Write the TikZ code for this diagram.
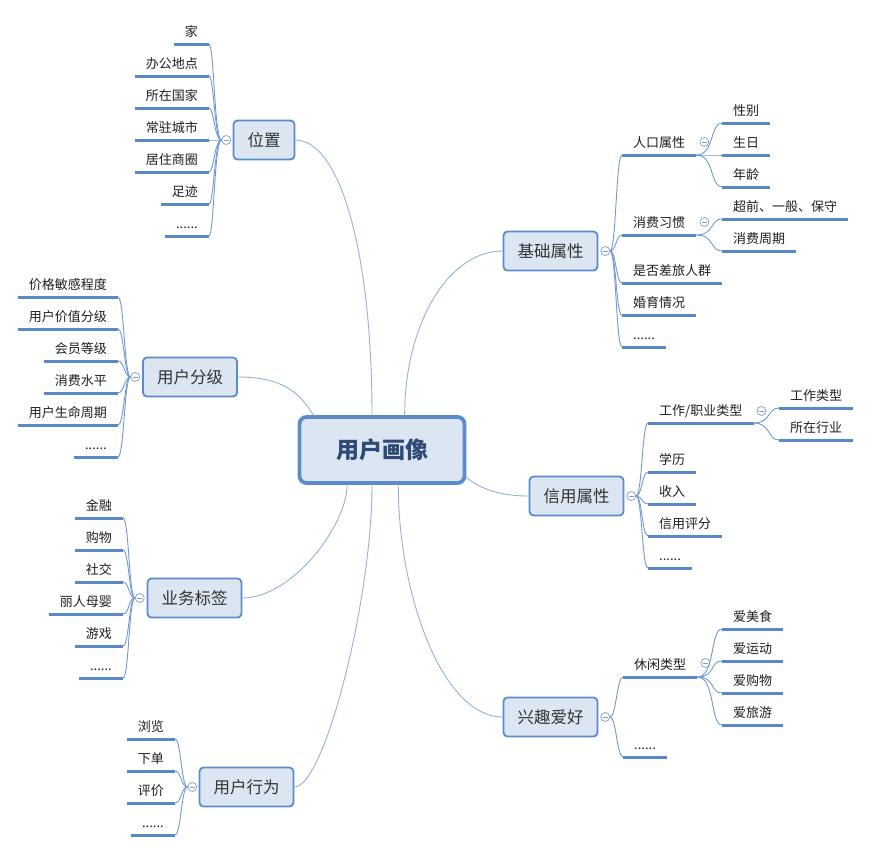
\documentclass[tikz,border=0pt]{standalone}
\usepackage{fontspec}
\setmainfont{Noto Sans CJK SC}
\usetikzlibrary{positioning}
\definecolor{boxfill}{HTML}{DCE6F2}
\definecolor{ringblue}{HTML}{5B8BCB}
\definecolor{lineblue}{HTML}{5A88C7}
\definecolor{twigblue}{HTML}{7199D0}
\definecolor{linkblue}{HTML}{95B2DA}
\definecolor{foldgray}{HTML}{7F9DC8}
\definecolor{rootink}{HTML}{2E4A75}
\newcommand\leafdots{......}
\tikzset{
	root/.style = {
			rounded corners=7pt, draw=ringblue, line width=3.8pt, fill=boxfill,
			minimum width=165pt, minimum height=66pt, text=rootink,
			font=\fontsize{23pt}{26pt}\selectfont\bfseries,
		},
	topic/.style = {
			rounded corners=4pt, draw=ringblue, line width=1.8pt, fill=boxfill,
			inner xsep=14pt, minimum height=39pt, text=black!80,
			font=\fontsize{16.5pt}{18pt}\selectfont,
		},
	leaf/.style = {
			inner xsep=11pt, inner ysep=0pt, text height=12pt, text depth=7pt,
			text=black!88, font=\fontsize{13pt}{15pt}\selectfont,
		},
	leafline/.style = {draw=lineblue, line width=3pt},
	twig/.style = {draw=twigblue, line width=0.9pt},
	link/.style = {draw=linkblue, line width=0.9pt},
	fold/.style = {
			circle, draw=foldgray, fill=white, line width=0.7pt,
			minimum size=9pt, inner sep=0pt,
			path picture={\draw[foldgray, line width=0.7pt]
					([xshift=-2.6pt]path picture bounding box.center) -- ([xshift=2.6pt]path picture bounding box.center);},
		}
}
\begin{document}
\begin{tikzpicture}[x=1pt, y=-1pt]
	% Page frame
	\path[use as bounding box, fill=white] (0,0) rectangle (872,852);

	% Central topic
	\node[root] (uc) at (382,450) {用户画像};

	% Location (left)
	\node[topic] (wz) at (264,140) {位置};
	\node[fold, left=1.5pt of wz] (wz-f) {};
	\foreach \n/\t/\y in {1/家/44, 2/办公地点/76, 3/所在国家/108, 4/常驻城市/140, 5/居住商圈/172, 6/足迹/204, 7/\leafdots/236}
		{   \node[leaf, anchor=south east] (wz-\n) at (209,\y) {\t};
			\draw[leafline] (wz-\n.south west) -- (wz-\n.south east);
			\draw[twig] (wz-f.west) .. controls +(-7,0) and +(5,0) .. (wz-\n.south east);
		}

	% User tiers (left)
	\node[topic] (fj) at (190,377) {用户分级};
	\node[fold, left=2pt of fj] (fj-f) {};
	\foreach \n/\t/\y in {1/价格敏感程度/297, 2/用户价值分级/329, 3/会员等级/361, 4/消费水平/393, 5/用户生命周期/425, 6/\leafdots/457}
		{   \node[leaf, anchor=south east] (fj-\n) at (118,\y) {\t};
			\draw[leafline] (fj-\n.south west) -- (fj-\n.south east);
			\draw[twig] (fj-f.west) .. controls +(-6,0) and +(6,0) .. (fj-\n.south east);
		}

	% Business tags (left)
	\node[topic] (yw) at (194.5,598) {业务标签};
	\node[fold, left=2pt of yw] (yw-f) {};
	\foreach \n/\t/\y in {1/金融/518, 2/购物/550, 3/社交/582, 4/丽人母婴/614, 5/游戏/646, 6/\leafdots/678}
		{   \node[leaf, anchor=south east] (yw-\n) at (123,\y) {\t};
			\draw[leafline] (yw-\n.south west) -- (yw-\n.south east);
			\draw[twig] (yw-f.west) .. controls +(-6,0) and +(6,0) .. (yw-\n.south east);
		}

	% User behaviour (left)
	\node[topic] (xw) at (246.5,787) {用户行为};
	\node[fold, left=1.5pt of xw] (xw-f) {};
	\foreach \n/\t/\y in {1/浏览/739, 2/下单/771, 3/评价/803, 4/\leafdots/835}
		{   \node[leaf, anchor=south east] (xw-\n) at (175,\y) {\t};
			\draw[leafline] (xw-\n.south west) -- (xw-\n.south east);
			\draw[twig] (xw-f.west) .. controls +(-6,0) and +(6,0) .. (xw-\n.south east);
		}

	% Basic attributes (right)
	\node[topic] (jc) at (550.5,251) {基础属性};
	\node[fold, right=2pt of jc] (jc-f) {};
	\foreach \n/\t/\y in {1/人口属性/155, 2/消费习惯/235, 3/是否差旅人群/283, 4/婚育情况/315, 5/\leafdots/347}
		{   \node[leaf, anchor=south west] (jc-\n) at (622,\y) {\t};
			\draw[leafline] (jc-\n.south west) -- (jc-\n.south east);
			\draw[twig] (jc-f.east) .. controls +(6,0) and +(-6,0) .. (jc-\n.south west);
		}
	\node[fold] (jc-1-f) at ([xshift=8pt,yshift=13pt]jc-1.south east) {};
	\foreach \n/\t/\y in {1/性别/123, 2/生日/155, 3/年龄/187}
		{   \node[leaf, anchor=south west] (jc-1-\n) at (722,\y) {\t};
			\draw[leafline] (jc-1-\n.south west) -- (jc-1-\n.south east);
			\draw[twig] (jc-1.south east) .. controls +(18,0) and +(-12,0) .. (jc-1-\n.south west);
		}
	\node[fold] (jc-2-f) at ([xshift=8pt,yshift=13pt]jc-2.south east) {};
	\foreach \n/\t/\y in {1/超前、一般、保守/219, 2/消费周期/251}
		{   \node[leaf, anchor=south west] (jc-2-\n) at (722,\y) {\t};
			\draw[leafline] (jc-2-\n.south west) -- (jc-2-\n.south east);
			\draw[twig] (jc-2.south east) .. controls +(18,0) and +(-12,0) .. (jc-2-\n.south west);
		}

	% Credit attributes (right)
	\node[topic] (xy) at (576.5,496) {信用属性};
	\node[fold, right=2pt of xy] (xy-f) {};
	\foreach \n/\t/\y in {1/{工作/职业类型}/423, 2/学历/472, 3/收入/504, 4/信用评分/536, 5/\leafdots/568}
		{   \node[leaf, anchor=south west] (xy-\n) at (648,\y) {\t};
			\draw[leafline] (xy-\n.south west) -- (xy-\n.south east);
			\draw[twig] (xy-f.east) .. controls +(6,0) and +(-6,0) .. (xy-\n.south west);
		}
	\node[fold] (xy-1-f) at ([xshift=8pt,yshift=12pt]xy-1.south east) {};
	\foreach \n/\t/\y in {1/工作类型/408, 2/所在行业/440}
		{   \node[leaf, anchor=south west] (xy-1-\n) at (779,\y) {\t};
			\draw[leafline] (xy-1-\n.south west) -- (xy-1-\n.south east);
			\draw[twig] (xy-1.south east) .. controls +(18,0) and +(-12,0) .. (xy-1-\n.south west);
		}

	% Hobbies (right)
	\node[topic] (xq) at (550.5,717) {兴趣爱好};
	\node[fold, right=2pt of xq] (xq-f) {};
	\foreach \n/\t/\y in {1/休闲类型/677, 2/\leafdots/757}
		{   \node[leaf, anchor=south west] (xq-\n) at (623,\y) {\t};
			\draw[leafline] (xq-\n.south west) -- (xq-\n.south east);
			\draw[twig] (xq-f.east) .. controls +(6,0) and +(-6,0) .. (xq-\n.south west);
		}
	\node[fold] (xq-1-f) at ([xshift=8pt,yshift=14pt]xq-1.south east) {};
	\foreach \n/\t/\y in {1/爱美食/629, 2/爱运动/661, 3/爱购物/693, 4/爱旅游/725}
		{   \node[leaf, anchor=south west] (xq-1-\n) at (722,\y) {\t};
			\draw[leafline] (xq-1-\n.south west) -- (xq-1-\n.south east);
			\draw[twig] (xq-1.south east) .. controls +(18,0) and +(-12,0) .. (xq-1-\n.south west);
		}

	% Links to the central topic
	\draw[link] (wz.east) .. controls +(44,0) and +(0,-165) .. (uc.106);
	\draw[link] (fj.east) .. controls +(50,0) and +(-12,-18) .. (uc.153);
	\draw[link] (yw.east) .. controls +(50,0) and +(0,40) .. (uc.225);
	\draw[link] (xw.east) .. controls +(30,0) and +(0,115) .. (uc.254);
	\draw[link] (jc.west) .. controls +(-55,0) and +(0,-90) .. (uc.57);
	\draw[link] (xy.west) .. controls +(-35,0) and +(10,8) .. (uc.342);
	\draw[link] (xq.west) .. controls +(-60,0) and +(0,110) .. (uc.295);
\end{tikzpicture}
\end{document}
